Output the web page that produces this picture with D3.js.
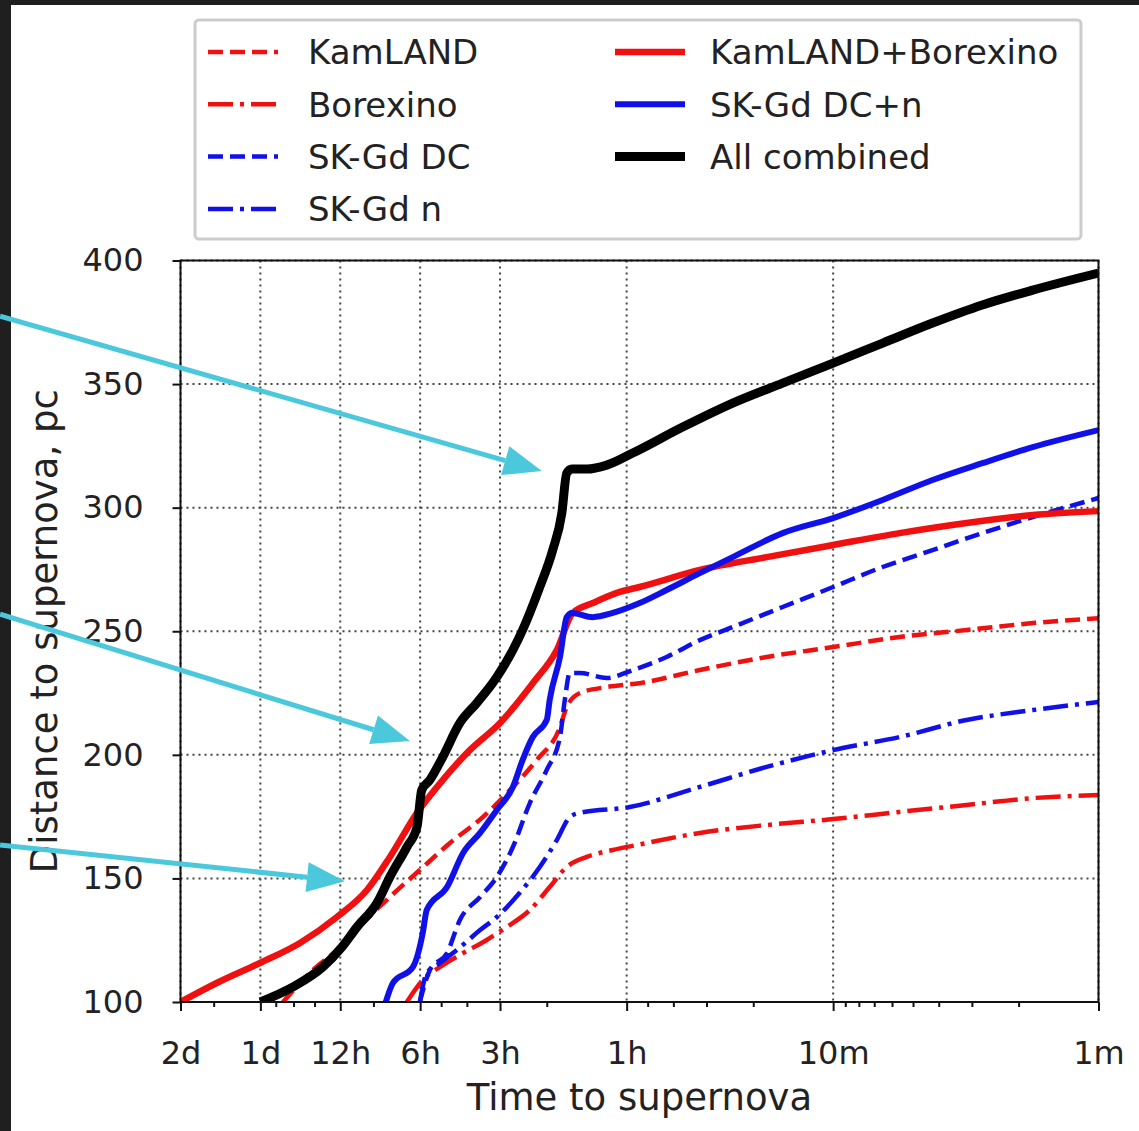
<!DOCTYPE html>
<html>
<head>
<meta charset="utf-8">
<script src="https://cdn.jsdelivr.net/npm/d3@7"></script>
<style>
  body { margin: 0; background: #fff; }
  text { font-family: "DejaVu Sans", sans-serif; fill: #222; }
</style>
</head>
<body>
<div class="chart"></div>
<script>

var width = 1139,
    height = 1131;

// time to supernova in minutes, distance in pc
var kamland = [[1184,100],[913,112.9],[741,121],[592,132],[468,142.5],[361,153.4],[278,164.3],[209,174.8],[165,185.8],[131,197.9],[107,211.2],[101,219.3],[90,225],[71.3,227.4],[53.6,229],[31.8,234.3],[17.8,239.6],[10,243.6],[5.62,247.7],[3.14,250.5],[1.77,253.3],[1,255.3]];
var borexino = [[404,100],[352,108.9],[303,114.2],[248,119.8],[202,125.1],[170,130.3],[139,137.2],[117,146.5],[101,154.6],[84.8,158.7],[67.7,161.5],[55,163.5],[31.8,168.4],[17.8,171.6],[10,174],[5.62,176.9],[3.14,179.7],[1.77,182.5],[1,183.7]];
var skgdDC = [[361,100],[331,112.9],[285,119.8],[255,133.2],[214,142.5],[185,150.6],[161,162.7],[139,180.5],[120,193.9],[107,207.2],[102.6,222.2],[98.3,233.1],[90.1,233.1],[71.3,231.1],[56.9,234.3],[42.4,239.6],[31.8,246.4],[23.9,251.7],[15.5,259.8],[10,267.9],[6.51,276],[4.22,282.8],[2.74,289.7],[1.77,296.2],[1,303.9]];
var skgdN = [[361,100],[340,111.7],[303,115.8],[262,121],[214,129.1],[185,134.4],[152,144.1],[127.5,154.6],[110,165.5],[98.3,174.8],[90.1,176.5],[58.4,178.9],[31.8,187],[17.8,195.1],[10,201.9],[5.62,207.2],[3.14,214.1],[1.77,218.1],[1,221.4]];
var kamBor = [[2880,100],[2104,107.7],[1445,115.8],[1021,123.9],[741,134.4],[571,145.3],[468,158.7],[370,176.5],[296,189.8],[234,201.9],[180,212.9],[135.5,229],[110,242.4],[95.8,257.4],[80.5,261.4],[63.7,265.9],[53.6,267.9],[31.8,274.8],[17.8,280],[10,284.9],[5.62,289.7],[3.14,293.8],[1.77,297],[1,298.6]];
var skgdDCn = [[485,100],[456,107.7],[383,114.2],[352,127.9],[340,137.2],[285,146.5],[248,160.3],[214,168.4],[185,177.7],[161,187],[148,197.9],[135.5,207.2],[120,214.1],[117,222.2],[107,239.6],[100.9,255.7],[96.6,257.4],[80.5,255.7],[67.7,257.4],[53.6,261.4],[42.4,266.7],[31.8,273.5],[23.9,280],[15.5,289.7],[10,295.8],[6.51,303.1],[4.22,311.2],[2.74,318],[1.77,324.5],[1,331.4]];
var allComb = [[1440,100],[1085,106.1],[837,114.2],[710,122.2],[623,130.3],[524,140],[468,150.6],[404,162.7],[370,170.8],[355,185.8],[331,189.8],[296,199.1],[255,212.9],[220,221],[185,231.5],[161,242.4],[148,250.5],[127.5,267.9],[114,282.8],[105.3,297.8],[100.9,314],[96.6,315.6],[84.8,315.6],[71.3,317.2],[56.9,322.1],[36.9,332.6],[23.9,342.3],[15.5,350.4],[10,358.5],[6.5,366.6],[4.22,374.7],[2.74,382],[1.77,388],[1,394.9]];

var xMajor = [2880, 1440, 720, 360, 180, 60, 10, 1];
var xLabels = ["2d", "1d", "12h", "6h", "3h", "1h", "10m", "1m"];
var xMinor = [2160, 1260, 1080, 900, 540, 300, 240, 120, 50, 40, 30, 20, 9, 8, 7, 6, 5, 4, 3, 2];
var yTicks = [100, 150, 200, 250, 300, 350, 400];

var names = ["KamLAND", "Borexino", "SK-Gd DC", "SK-Gd n", "KamLAND+Borexino", "SK-Gd DC+n", "All combined"];

// arrows pasted over the figure, [from, to] in (minutes, pc)
var arrows = [
    [[13780, 377.5], [125.3, 314.8]],
    [[13780, 256.9], [393.6, 205.6]],
    [[13780, 163.5], [691.6, 148.9]]
];

var series = [
    { data: kamland,  color: "#f01010", width: 4.5, dash: "15,7" },
    { data: borexino, color: "#f01010", width: 4.5, dash: "25,7,4,7" },
    { data: skgdDC,   color: "#1010e8", width: 4.5, dash: "15,7" },
    { data: skgdN,    color: "#1010e8", width: 4.5, dash: "25,7,4,7" },
    { data: kamBor,   color: "#f01010", width: 6.5, dash: null },
    { data: skgdDCn,  color: "#1010e8", width: 6,   dash: null },
    { data: allComb,  color: "#000",    width: 9,   dash: null }
];

var plotL = 180.5, plotR = 1098.5, plotT = 260.5, plotB = 1002;

var x = d3.scaleLog()
    .domain([2880, 1])
    .range([plotL, plotR]);

var y = d3.scaleLinear()
    .domain([100, 400])
    .range([plotB, plotT]);

var svg = d3.select(".chart").append("svg")
    .attr("width", width)
    .attr("height", height);

svg.append("rect")
    .attr("width", width)
    .attr("height", height)
    .attr("fill", "#fff");

svg.append("clipPath")
    .attr("id", "plotclip")
    .append("rect")
    .attr("x", plotL)
    .attr("y", plotT)
    .attr("width", plotR - plotL)
    .attr("height", plotB - plotT);

// dotted grid
var grid = svg.append("g")
    .attr("stroke", "#444")
    .attr("stroke-width", 2)
    .attr("stroke-dasharray", "2,4");

grid.selectAll(".gx")
    .data(xMajor)
    .enter().append("line")
    .attr("x1", function(d) { return x(d); })
    .attr("x2", function(d) { return x(d); })
    .attr("y1", plotT)
    .attr("y2", plotB);

grid.selectAll(".gy")
    .data(yTicks)
    .enter().append("line")
    .attr("x1", plotL)
    .attr("x2", plotR)
    .attr("y1", function(d) { return y(d); })
    .attr("y2", function(d) { return y(d); });

// curves
var line = d3.line()
    .curve(d3.curveMonotoneX)
    .x(function(d) { return x(d[0]); })
    .y(function(d) { return y(d[1]); });

svg.append("g")
    .attr("clip-path", "url(#plotclip)")
    .selectAll("path")
    .data(series)
    .enter().append("path")
    .attr("d", function(d) { return line(d.data); })
    .attr("fill", "none")
    .attr("stroke", function(d) { return d.color; })
    .attr("stroke-width", function(d) { return d.width; })
    .attr("stroke-dasharray", function(d) { return d.dash; })
    .attr("stroke-linejoin", "round");

// frame
svg.append("rect")
    .attr("x", plotL)
    .attr("y", plotT)
    .attr("width", plotR - plotL)
    .attr("height", plotB - plotT)
    .attr("fill", "none")
    .attr("stroke", "#111")
    .attr("stroke-width", 2);

// axes
svg.append("g")
    .attr("transform", "translate(0," + plotB + ")")
    .call(d3.axisBottom(x)
        .tickValues(xMajor)
        .tickFormat(function(d, i) { return xLabels[i]; })
        .tickSize(9)
        .tickPadding(30));

svg.append("g")
    .attr("transform", "translate(0," + plotB + ")")
    .call(d3.axisBottom(x)
        .tickValues(xMinor)
        .tickFormat("")
        .tickSize(5));

svg.append("g")
    .attr("transform", "translate(" + plotL + ",0)")
    .call(d3.axisLeft(y)
        .tickValues(yTicks)
        .tickSize(8)
        .tickPadding(29));

svg.selectAll(".domain").remove();
svg.selectAll(".tick line").attr("stroke", "#111").attr("stroke-width", 2);
svg.selectAll(".tick text")
    .style("font-family", "DejaVu Sans")
    .style("font-size", "32px")
    .attr("fill", "#222");

svg.append("text")
    .attr("x", (plotL + plotR) / 2)
    .attr("y", 1110)
    .attr("text-anchor", "middle")
    .style("font-size", "37px")
    .text("Time to supernova");

svg.append("text")
    .attr("transform", "translate(57," + (plotT + plotB) / 2 + ") rotate(-90)")
    .attr("text-anchor", "middle")
    .style("font-size", "37px")
    .text("Distance to supernova, pc");

// legend
var legend = svg.append("g");

legend.append("rect")
    .attr("x", 195)
    .attr("y", 20)
    .attr("width", 886)
    .attr("height", 219)
    .attr("rx", 4)
    .attr("fill", "#fff")
    .attr("stroke", "#ccc")
    .attr("stroke-width", 3);

var item = legend.selectAll(".item")
    .data(series)
    .enter().append("g")
    .attr("transform", function(d, i) {
        var col = i < 4 ? 0 : 1,
            row = i < 4 ? i : i - 4;
        return "translate(" + (col ? 615 : 208) + "," + (52 + row * 52.3) + ")";
    });

item.append("line")
    .attr("x1", 0)
    .attr("x2", 70)
    .attr("stroke", function(d) { return d.color; })
    .attr("stroke-width", function(d) { return d.width; })
    .attr("stroke-dasharray", function(d) { return d.dash; });

item.append("text")
    .attr("x", function(d, i) { return i < 4 ? 100 : 95; })
    .attr("dy", "0.36em")
    .style("font-size", "34px")
    .text(function(d, i) { return names[i]; });

// dark edge of the screenshot
svg.append("rect").attr("x", 0).attr("y", 0).attr("width", 11).attr("height", height).attr("fill", "#1f1f1f");
svg.append("rect").attr("x", 0).attr("y", 0).attr("width", width).attr("height", 5).attr("fill", "#1f1f1f");

// cyan arrows
var arrowG = svg.append("g");
arrows.forEach(function(a) {
    var x0 = x(a[0][0]), y0 = y(a[0][1]),
        x1 = x(a[1][0]), y1 = y(a[1][1]);
    var len = Math.sqrt((x1 - x0) * (x1 - x0) + (y1 - y0) * (y1 - y0)),
        ux = (x1 - x0) / len, uy = (y1 - y0) / len;
    var bx = x1 - 38 * ux, by = y1 - 38 * uy;
    arrowG.append("line")
        .attr("x1", x0).attr("y1", y0)
        .attr("x2", bx).attr("y2", by)
        .attr("stroke", "#4cc8dc")
        .attr("stroke-width", 5);
    arrowG.append("path")
        .attr("d", "M" + x1 + "," + y1 +
            "L" + (bx - 15 * uy) + "," + (by + 15 * ux) +
            "L" + (bx + 15 * uy) + "," + (by - 15 * ux) + "Z")
        .attr("fill", "#4cc8dc");
});

</script>
</body>
</html>
